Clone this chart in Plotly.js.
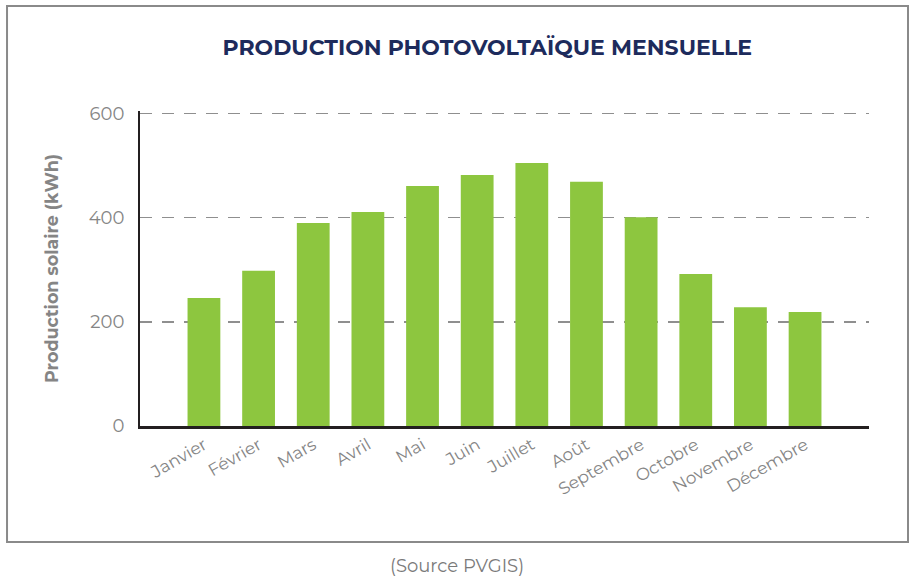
<!DOCTYPE html>
<html>
<head>
<meta charset="utf-8">
<script src="https://cdn.plot.ly/plotly-3.0.1.min.js"></script>
<style>
  body { margin: 0; background: #ffffff; }
  #container { width: 916px; height: 582px; }
</style>
</head>
<body>
<div id="container"></div>
<script>
// Дані з графіка (кВт·год на місяць)
let months = ["Janvier", "Février", "Mars", "Avril", "Mai", "Juin", "Juillet", "Août", "Septembre", "Octobre", "Novembre", "Décembre"];
let production = [246, 298, 390, 411, 461, 482, 505, 469, 401, 292, 228, 219];
let yTicks = [0, 200, 400, 600];

const font = "Montserrat, 'DejaVu Sans', sans-serif";
const grey = "#858585";

const draw = () => {
  let data = [{
    x: months,
    y: production,
    type: "bar",
    marker: { color: "#8dc63f" },
    hoverinfo: "x+y"
  }];

  let layout = {
    width: 916,
    height: 582,
    margin: { l: 140, r: 47, t: 111, b: 156 },
    paper_bgcolor: "#ffffff",
    plot_bgcolor: "#ffffff",
    showlegend: false,
    bargap: 0.4,
    font: { family: font, color: grey },
    title: {
      text: "<b>PRODUCTION PHOTOVOLTAÏQUE MENSUELLE</b>",
      font: { family: font, size: 22, color: "#1d2b5c" },
      xref: "container", yref: "container",
      x: 0.532, y: 0.918, xanchor: "center", yanchor: "middle"
    },
    xaxis: {
      type: "category",
      range: [-1.17, 12.17],
      tickangle: -30,
      tickfont: { size: 17, color: grey },
      showline: true,
      linecolor: "#231f20",
      linewidth: 2.5,
      showgrid: false,
      ticks: "",
      fixedrange: true
    },
    yaxis: {
      range: [0, 605],
      tickvals: yTicks,
      tickfont: { size: 18, color: grey },
      showline: true,
      linecolor: "#231f20",
      linewidth: 2,
      showgrid: true,
      gridcolor: "#8f8f8f",
      gridwidth: 1.5,
      griddash: "12px,10px",
      zeroline: false,
      ticks: "",
      ticklabelstandoff: 10,
      title: {
        text: "<b>Production solaire (kWh)</b>",
        font: { family: font, size: 17.5, color: grey },
        standoff: 26
      },
      fixedrange: true
    },
    shapes: [{
      type: "rect",
      xref: "paper", yref: "paper",
      x0: -0.1824, x1: 1.0535, y0: -0.368, y1: 1.333,
      line: { color: "#8a8a8a", width: 2 },
      fillcolor: "rgba(0,0,0,0)"
    }],
    annotations: [{
      text: "(Source PVGIS)",
      xref: "paper", yref: "paper",
      x: 0.435, y: -0.444,
      yanchor: "middle",
      showarrow: false,
      font: { family: font, size: 18, color: "#7a7a7a" }
    }]
  };

  Plotly.newPlot("container", data, layout, { displayModeBar: false, staticPlot: true });
};

draw();
</script>
</body>
</html>
